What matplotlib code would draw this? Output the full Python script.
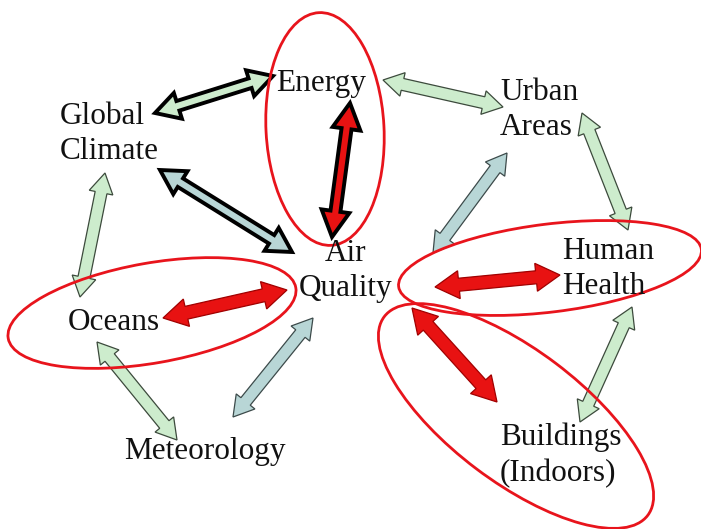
import numpy as np
import matplotlib
matplotlib.use("Agg")
import matplotlib.pyplot as plt
from matplotlib.patches import Polygon, Ellipse

W, H = 701, 529

# ---- data (pixel coordinates of the diagram) ----
labels = ["Energy", "Global\nClimate", "Urban\nAreas", "Air\nQuality",
          "Human\nHealth", "Oceans", "Meteorology", "Buildings\n(Indoors)"]
label_x = [321, 60, 500, 346, 562, 68, 205, 500]
label_y = [83, 134, 110, 271, 269, 323, 452, 455]
label_ha = ["center", "left", "left", "center", "left", "left", "center", "left"]

arrow_start = [(155, 113), (350, 103), (160, 170), (383, 80), (582, 113),
               (507, 153), (435, 287), (105, 173), (163, 318), (97, 342),
               (233, 417), (412, 308), (580, 422)]
arrow_end = [(273, 76), (332, 237), (292, 252), (503, 107), (628, 230),
             (433, 253), (560, 275), (80, 297), (287, 290), (177, 440),
             (313, 318), (497, 402), (632, 307)]
arrow_kind = ["green_bold", "red_bold", "blue_bold", "green", "green",
              "blue", "red", "green", "red", "green",
              "blue", "red", "green"]

ellipse_center = [(325, 129), (152, 313), (550, 268), (516, 416)]
ellipse_width = [118, 292, 305, 330]
ellipse_height = [233, 100, 88, 132]
ellipse_angle = [-3, -10, -7, 37]

styles = {
    "green_bold": dict(fc="#cdeccd", ec="black", lw=2.8, shaft=10, head=27, hl=24),
    "red_bold": dict(fc="#e81212", ec="black", lw=2.8, shaft=10, head=28, hl=26),
    "blue_bold": dict(fc="#b8d6d6", ec="black", lw=2.8, shaft=10, head=27, hl=24),
    "green": dict(fc="#cdeccd", ec="#3c4a3c", lw=0.9, shaft=12, head=24, hl=20),
    "blue": dict(fc="#b8d6d6", ec="#3c4a4a", lw=0.9, shaft=12, head=24, hl=20),
    "red": dict(fc="#e81212", ec="#a00000", lw=0.9, shaft=13, head=28, hl=24),
}


def double_arrow(p0, p1, shaft, head, hl):
    p0 = np.array(p0, float)
    p1 = np.array(p1, float)
    d = p1 - p0
    L = np.hypot(*d)
    u = d / L
    n = np.array([-u[1], u[0]])
    a = p0 + u * hl
    b = p1 - u * hl
    pts = [p0,
           a + n * head / 2, a + n * shaft / 2,
           b + n * shaft / 2, b + n * head / 2,
           p1,
           b - n * head / 2, b - n * shaft / 2,
           a - n * shaft / 2, a - n * head / 2]
    return np.array(pts)


fig = plt.figure(figsize=(W / 100, H / 100), dpi=100)
ax = fig.add_axes([0, 0, 1, 1])
ax.set_xlim(0, W)
ax.set_ylim(H, 0)
ax.axis("off")

for s, e, k in zip(arrow_start, arrow_end, arrow_kind):
    st = styles[k]
    poly = Polygon(double_arrow(s, e, st["shaft"], st["head"], st["hl"]),
                   closed=True, fc=st["fc"], ec=st["ec"], lw=st["lw"],
                   joinstyle="miter", zorder=2)
    ax.add_patch(poly)

for c, w, h, a in zip(ellipse_center, ellipse_width, ellipse_height, ellipse_angle):
    ax.add_patch(Ellipse(c, w, h, angle=a, fill=False, ec="#e8141c", lw=2.0, zorder=3))

for t, x, y, ha in zip(labels, label_x, label_y, label_ha):
    ax.text(x, y, t, ha=ha, va="center", fontsize=22.5,
            family="Liberation Serif", color="#111111", linespacing=1.3, zorder=4)

fig.savefig("out.png", dpi=100)
